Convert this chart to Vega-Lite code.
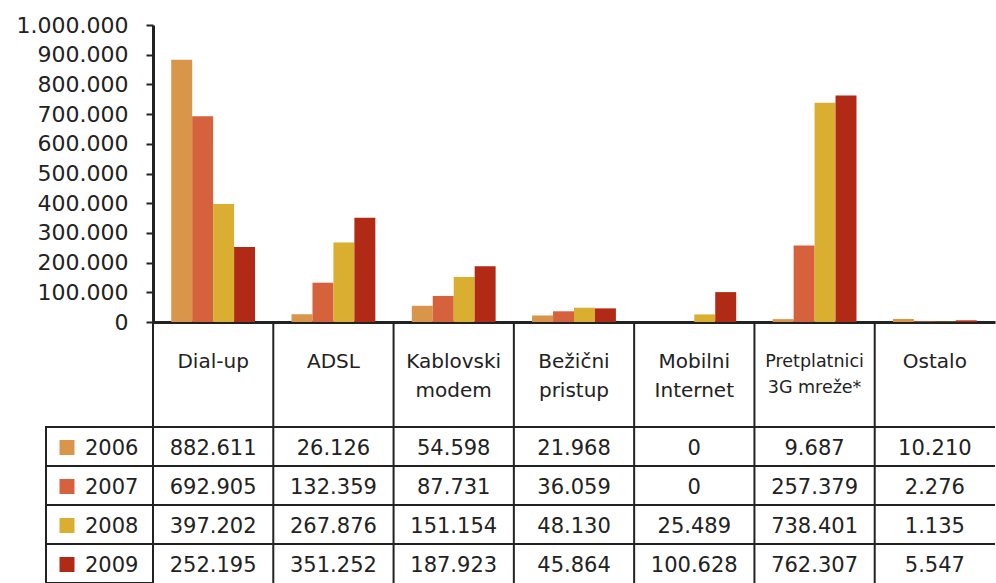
{
  "$schema": "https://vega.github.io/schema/vega-lite/v6.json",
  "background": "white",
  "padding": {"left": 16, "top": 14, "right": 0, "bottom": 0},
  "config": {
    "font": "DejaVu Sans",
    "view": {"stroke": null},
    "locale": {"number": {"decimal": ",", "thousands": ".", "grouping": [3], "currency": ["", ""]}},
    "axis": {"title": null, "labelColor": "#222", "domainColor": "#222", "tickColor": "#222"}
  },
  "datasets": {
    "vrijednosti": [
      {"kategorija": "Dial-up", "godina": "2006", "broj": 882611},
      {"kategorija": "ADSL", "godina": "2006", "broj": 26126},
      {"kategorija": "Kablovski modem", "godina": "2006", "broj": 54598},
      {"kategorija": "Bežični pristup", "godina": "2006", "broj": 21968},
      {"kategorija": "Mobilni Internet", "godina": "2006", "broj": 0},
      {"kategorija": "Pretplatnici 3G mreže*", "godina": "2006", "broj": 9687},
      {"kategorija": "Ostalo", "godina": "2006", "broj": 10210},
      {"kategorija": "Dial-up", "godina": "2007", "broj": 692905},
      {"kategorija": "ADSL", "godina": "2007", "broj": 132359},
      {"kategorija": "Kablovski modem", "godina": "2007", "broj": 87731},
      {"kategorija": "Bežični pristup", "godina": "2007", "broj": 36059},
      {"kategorija": "Mobilni Internet", "godina": "2007", "broj": 0},
      {"kategorija": "Pretplatnici 3G mreže*", "godina": "2007", "broj": 257379},
      {"kategorija": "Ostalo", "godina": "2007", "broj": 2276},
      {"kategorija": "Dial-up", "godina": "2008", "broj": 397202},
      {"kategorija": "ADSL", "godina": "2008", "broj": 267876},
      {"kategorija": "Kablovski modem", "godina": "2008", "broj": 151154},
      {"kategorija": "Bežični pristup", "godina": "2008", "broj": 48130},
      {"kategorija": "Mobilni Internet", "godina": "2008", "broj": 25489},
      {"kategorija": "Pretplatnici 3G mreže*", "godina": "2008", "broj": 738401},
      {"kategorija": "Ostalo", "godina": "2008", "broj": 1135},
      {"kategorija": "Dial-up", "godina": "2009", "broj": 252195},
      {"kategorija": "ADSL", "godina": "2009", "broj": 351252},
      {"kategorija": "Kablovski modem", "godina": "2009", "broj": 187923},
      {"kategorija": "Bežični pristup", "godina": "2009", "broj": 45864},
      {"kategorija": "Mobilni Internet", "godina": "2009", "broj": 100628},
      {"kategorija": "Pretplatnici 3G mreže*", "godina": "2009", "broj": 762307},
      {"kategorija": "Ostalo", "godina": "2009", "broj": 5547}
    ],
    "zaglavlje": [
      {"kategorija": "Dial-up", "naziv": "Dial-up"},
      {"kategorija": "ADSL", "naziv": "ADSL"},
      {"kategorija": "Kablovski modem", "naziv": "Kablovski\nmodem"},
      {"kategorija": "Bežični pristup", "naziv": "Bežični\npristup"},
      {"kategorija": "Mobilni Internet", "naziv": "Mobilni\nInternet"},
      {"kategorija": "Pretplatnici 3G mreže*", "naziv": "Pretplatnici\n3G mreže*"},
      {"kategorija": "Ostalo", "naziv": "Ostalo"}
    ],
    "godine": [
      {"godina": "2006"},
      {"godina": "2007"},
      {"godina": "2008"},
      {"godina": "2009"}
    ]
  },
  "columns": 2,
  "spacing": 0,
  "bounds": "flush",
  "align": "each",
  "concat": [
    {
      "width": 107,
      "height": 297,
      "data": {"values": []},
      "mark": "point",
      "encoding": {}
    },
    {
      "width": 842,
      "height": 297,
      "data": {"name": "vrijednosti"},
      "mark": {"type": "bar"},
      "encoding": {
        "x": {
          "field": "kategorija",
          "type": "nominal",
          "sort": ["Dial-up", "ADSL", "Kablovski modem", "Bežični pristup", "Mobilni Internet", "Pretplatnici 3G mreže*", "Ostalo"],
          "scale": {"paddingInner": 0, "paddingOuter": 0},
          "axis": {"labels": false, "ticks": false, "grid": false, "domainWidth": 3}
        },
        "xOffset": {
          "field": "godina",
          "type": "nominal",
          "sort": ["2006", "2007", "2008", "2009"],
          "scale": {"paddingInner": 0, "paddingOuter": 0.87}
        },
        "y": {
          "field": "broj",
          "type": "quantitative",
          "scale": {"domain": [0, 1000000], "nice": false},
          "axis": {
            "values": [0, 100000, 200000, 300000, 400000, 500000, 600000, 700000, 800000, 900000, 1000000],
            "format": ",d",
            "labelFontSize": 22,
            "labelPadding": 18,
            "labelFlush": false,
            "labelOverlap": false,
            "tickSize": 7,
            "tickWidth": 2,
            "domainWidth": 3,
            "grid": false
          }
        },
        "color": {
          "field": "godina",
          "type": "nominal",
          "scale": {"domain": ["2006", "2007", "2008", "2009"], "range": ["#D9964A", "#D5623C", "#DAAE31", "#B12A15"]},
          "legend": null
        }
      }
    },
    {
      "width": 107,
      "height": 105,
      "data": {"values": []},
      "mark": "point",
      "encoding": {}
    },
    {
      "width": 842,
      "height": 105,
      "data": {"name": "zaglavlje"},
      "encoding": {
        "x": {
          "field": "kategorija",
          "type": "nominal",
          "sort": ["Dial-up", "ADSL", "Kablovski modem", "Bežični pristup", "Mobilni Internet", "Pretplatnici 3G mreže*", "Ostalo"],
          "scale": {"paddingInner": 0, "paddingOuter": 0},
          "axis": null
        }
      },
      "layer": [
        {
          "mark": {"type": "rule", "color": "#222", "strokeWidth": 2},
          "encoding": {
            "x": {
              "field": "kategorija",
              "type": "nominal",
              "sort": ["Dial-up", "ADSL", "Kablovski modem", "Bežični pristup", "Mobilni Internet", "Pretplatnici 3G mreže*", "Ostalo"],
              "bandPosition": 0,
              "axis": null
            }
          }
        },
        {
          "transform": [{"filter": "datum.kategorija !== 'Pretplatnici 3G mreže*'"}],
          "mark": {"type": "text", "fontSize": 20, "lineBreak": "\n", "lineHeight": 28.5, "baseline": "top", "dy": -22.5, "color": "#222"},
          "encoding": {"text": {"field": "naziv", "type": "nominal"}}
        },
        {
          "transform": [{"filter": "datum.kategorija === 'Pretplatnici 3G mreže*'"}],
          "mark": {"type": "text", "fontSize": 17.5, "lineBreak": "\n", "lineHeight": 25.5, "baseline": "top", "dy": -21.5, "color": "#222"},
          "encoding": {"text": {"field": "naziv", "type": "nominal"}}
        }
      ]
    },
    {
      "width": 107,
      "height": 156,
      "view": {"stroke": "#222", "strokeWidth": 2},
      "data": {"name": "godine"},
      "encoding": {
        "y": {
          "field": "godina",
          "type": "nominal",
          "sort": ["2006", "2007", "2008", "2009"],
          "scale": {"paddingInner": 0, "paddingOuter": 0},
          "axis": null
        }
      },
      "layer": [
        {
          "mark": {"type": "rule", "color": "#222", "strokeWidth": 2},
          "encoding": {
            "y": {
              "field": "godina",
              "type": "nominal",
              "sort": ["2006", "2007", "2008", "2009"],
              "bandPosition": 0,
              "axis": null
            }
          }
        },
        {
          "mark": {"type": "square", "size": 225, "filled": true, "opacity": 1, "xOffset": -32.5, "yOffset": 1},
          "encoding": {
            "color": {
              "field": "godina",
              "type": "nominal",
              "scale": {"domain": ["2006", "2007", "2008", "2009"], "range": ["#D9964A", "#D5623C", "#DAAE31", "#B12A15"]},
              "legend": null
            }
          }
        },
        {
          "mark": {"type": "text", "fontSize": 21, "align": "left", "dx": -14.5, "dy": 2, "color": "#222"},
          "encoding": {"text": {"field": "godina", "type": "nominal"}}
        }
      ]
    },
    {
      "width": 842,
      "height": 156,
      "encoding": {
        "x": {
          "field": "kategorija",
          "type": "nominal",
          "sort": ["Dial-up", "ADSL", "Kablovski modem", "Bežični pristup", "Mobilni Internet", "Pretplatnici 3G mreže*", "Ostalo"],
          "scale": {"paddingInner": 0, "paddingOuter": 0},
          "axis": null
        }
      },
      "layer": [
        {
          "data": {"name": "zaglavlje"},
          "mark": {"type": "rule", "color": "#222", "strokeWidth": 2},
          "encoding": {
            "x": {
              "field": "kategorija",
              "type": "nominal",
              "sort": ["Dial-up", "ADSL", "Kablovski modem", "Bežični pristup", "Mobilni Internet", "Pretplatnici 3G mreže*", "Ostalo"],
              "bandPosition": 0,
              "axis": null
            }
          }
        },
        {
          "data": {"name": "godine"},
          "mark": {"type": "rule", "color": "#222", "strokeWidth": 2},
          "encoding": {
            "x": null,
            "y": {
              "field": "godina",
              "type": "nominal",
              "sort": ["2006", "2007", "2008", "2009"],
              "scale": {"paddingInner": 0, "paddingOuter": 0},
              "bandPosition": 0,
              "axis": null
            }
          }
        },
        {
          "data": {"name": "vrijednosti"},
          "mark": {"type": "text", "fontSize": 21, "dy": 2, "color": "#222"},
          "encoding": {
            "y": {
              "field": "godina",
              "type": "nominal",
              "sort": ["2006", "2007", "2008", "2009"],
              "scale": {"paddingInner": 0, "paddingOuter": 0},
              "axis": null
            },
            "text": {"field": "broj", "type": "quantitative", "format": ",d"}
          }
        }
      ]
    }
  ]
}
